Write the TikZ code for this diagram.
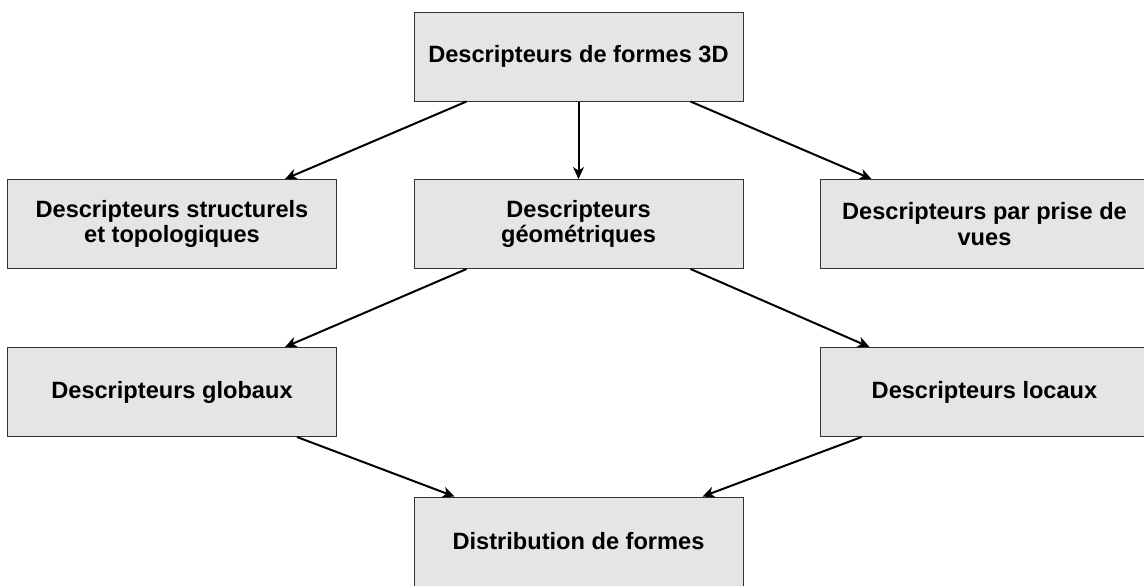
\documentclass[tikz,border=0pt]{standalone}
\usepackage{fontspec}
\setmainfont{Liberation Sans}
\usetikzlibrary{arrows.meta,calc}
\begin{document}
\begin{tikzpicture}[x=0.5pt,y=-0.5pt,
  box/.style={draw=black!80,fill=black!10,line width=0.5pt,minimum width=164.5pt,minimum height=44.5pt,inner sep=0pt,align=center,font=\fontsize{11.8}{12.8}\selectfont\bfseries},
  link/.style={line width=1pt,-{Stealth[length=6pt,width=5.5pt,inset=1.8pt]}}]
\useasboundingbox (0,0) rectangle (1144,585);
\node[box] (top) at (578.5,56.5) {Descripteurs de formes 3D};
\node[box] (l2) at (172,224) {Descripteurs structurels\\et topologiques};
\node[box] (m2) at (578.5,224) {Descripteurs\\géométriques};
\node[box] (r2) at (984.5,224) {Descripteurs par prise de\\vues};
\node[box] (l3) at (172,392) {Descripteurs globaux};
\node[box] (r3) at (984.5,392) {Descripteurs locaux};
\node[box] (b) at (578.5,541.5) {Distribution de formes};
\draw[link] ($(top.south west)+(53,0)$) -- ($(l2.north west)+(278,0)$);
\draw[link] (top.south) -- (m2.north);
\draw[link] ($(top.south east)+(-53,0)$) -- ($(r2.north west)+(52,0)$);
\draw[link] ($(m2.south west)+(53,0)$) -- ($(l3.north west)+(278,0)$);
\draw[link] ($(m2.south east)+(-53,0)$) -- ($(r3.north west)+(50,0)$);
\draw[link] ($(l3.south west)+(290,0)$) -- ($(b.north west)+(41,0)$);
\draw[link] ($(r3.south west)+(42,0)$) -- ($(b.north east)+(-41,0)$);
\end{tikzpicture}
\end{document}
